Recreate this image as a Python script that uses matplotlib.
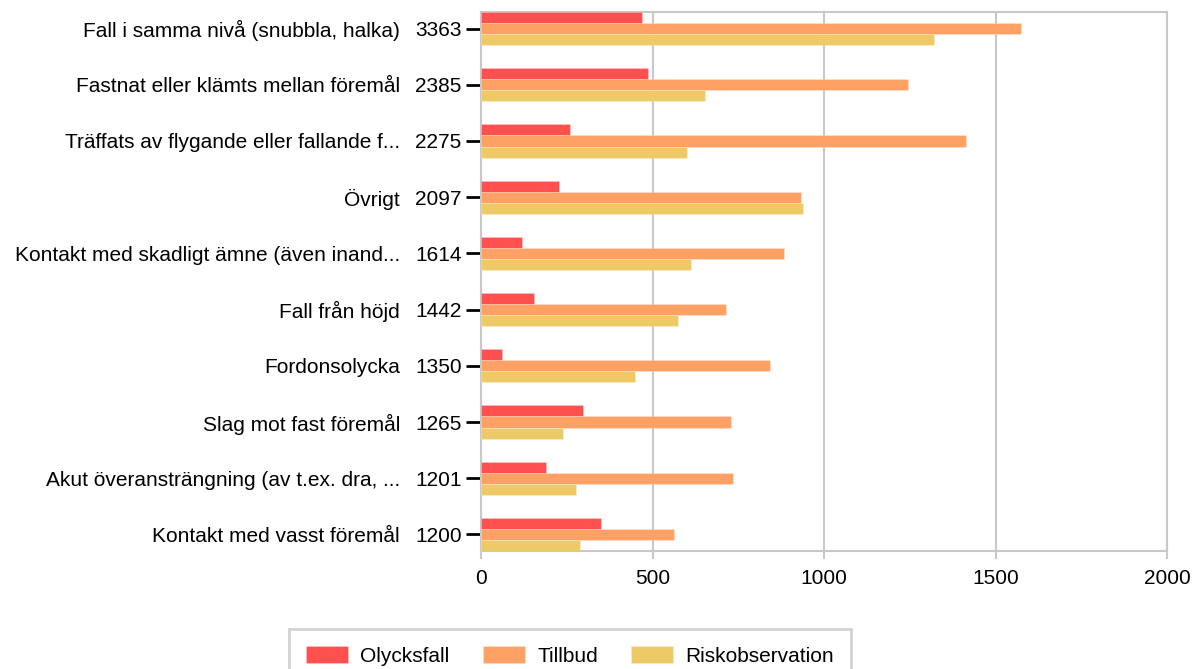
import numpy as np
import matplotlib.pyplot as plt

plt.rcParams['font.family'] = ['Liberation Sans', 'DejaVu Sans']

categories = ['Fall i samma nivå (snubbla, halka)',
              'Fastnat eller klämts mellan föremål',
              'Träffats av flygande eller fallande f...',
              'Övrigt',
              'Kontakt med skadligt ämne (även inand...',
              'Fall från höjd',
              'Fordonsolycka',
              'Slag mot fast föremål',
              'Akut överansträngning (av t.ex. dra, ...',
              'Kontakt med vasst föremål']
olycksfall = [468, 487, 259, 227, 119, 155, 60, 297, 189, 349]
tillbud = [1575, 1244, 1415, 932, 883, 713, 842, 730, 734, 563]
riskobs = [1320, 654, 601, 938, 612, 574, 448, 238, 278, 288]
totals = [3363, 2385, 2275, 2097, 1614, 1442, 1350, 1265, 1201, 1200]

series = [('Olycksfall', olycksfall, '#FF5050'),
          ('Tillbud', tillbud, '#FFA064'),
          ('Riskobservation', riskobs, '#EECA66')]

W, H = 1192, 669
fs = 15
fig = plt.figure(figsize=(W / 100, H / 100), dpi=100)
ax = fig.add_axes([481 / W, 1 - 551 / H, 686 / W, 539 / H])

y = np.arange(len(categories))
bh = 0.198
for i, (name, vals, col) in enumerate(series):
    ax.barh(y + (i - 1) * bh, vals, height=bh, color=col, label=name,
            edgecolor=(1, 1, 1, 0.25), linewidth=0.6, zorder=3)

ax.set_xlim(0, 2000)
ax.set_ylim(len(categories) - 1 + 0.295, -0.295)
ax.set_xticks([0, 500, 1000, 1500, 2000])
ax.grid(axis='x', color='#C8C8C8', linewidth=1.5, zorder=0)
for s in ax.spines.values():
    s.set_color('#C8C8C8')
    s.set_linewidth(1.5)

ax.set_yticks(y)
ax.set_yticklabels([str(t) for t in totals], fontsize=fs)
ax.tick_params(axis='y', length=11, width=2, color='black', pad=3)
ax.tick_params(axis='x', length=6, width=1.5, color='#C8C8C8', labelsize=fs, pad=7)

trans = ax.get_yaxis_transform()
for yi, name in zip(y, categories):
    ax.text(-81 / 686, yi, name, transform=trans, ha='right',
            va='center_baseline', fontsize=fs)

leg = fig.legend(loc='upper center', bbox_to_anchor=(570 / W, 1 - 629 / H),
                 ncol=3, fontsize=fs, frameon=True, fancybox=False,
                 edgecolor='#C8C8C8', handlelength=2.0, handleheight=0.9,
                 handletextpad=0.6, columnspacing=1.6, borderpad=0.8,
                 borderaxespad=0)
leg.get_frame().set_linewidth(2)

fig.savefig('out.png', dpi=100)
